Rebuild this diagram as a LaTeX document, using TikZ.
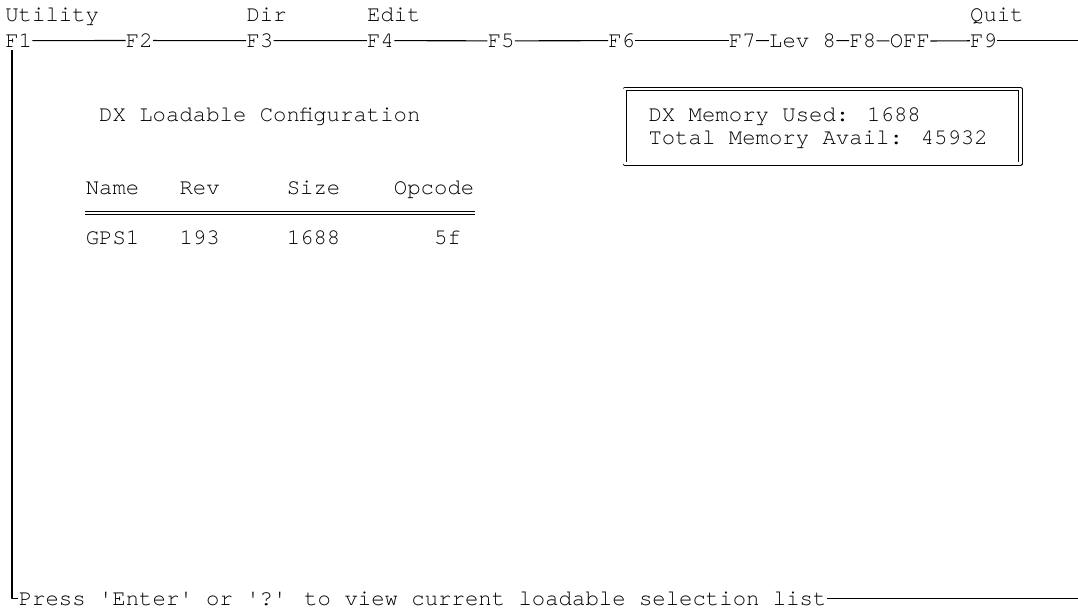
\documentclass[tikz,border=0pt]{standalone}
\usepackage{fontspec}
\newfontfamily\scrfont{texgyrecursor-regular.otf}
\begin{document}
\begin{tikzpicture}[x=0.02cm, y=-0.02cm, line join=round,
  txt/.style={font=\scrfont\fontsize{12.7}{13.1}\selectfont, inner sep=0pt, anchor=base west},
  bar/.style={line width=0.6pt},
  dbl/.style={double, double distance=1.4pt, line width=0.5pt}]
\useasboundingbox (0,0) rectangle (1078,611);
\coordinate (rend) at (1078,0);
% menu line
\node[txt] (ut) at (5,21.4) {Utility};
\node[txt] (dir) at (246.2,21.4) {Dir};
\node[txt] (edit) at (366.8,21.4) {Edit};
\node[txt] (quit) at (969.8,21.4) {Quit};
\node[txt] (f1) at (5,47.4) {F1};
\node[txt] (f2) at (125.6,47.4) {F2};
\node[txt] (f3) at (246.2,47.4) {F3};
\node[txt] (f4) at (366.8,47.4) {F4};
\node[txt] (f5) at (487.4,47.4) {F5};
\node[txt] (f6) at (608,47.4) {F6};
\node[txt] (f7) at (728.6,47.4) {F7};
\node[txt] (lev) at (768.8,47.4) {Lev 8};
\node[txt] (f8) at (849.2,47.4) {F8};
\node[txt] (off) at (889.4,47.4) {OFF};
\node[txt] (f9) at (969.8,47.4) {F9};
\foreach \a/\b in {f1/f2,f2/f3,f3/f4,f4/f5,f5/f6,f6/f7,f7/lev,lev/f8,f8/off,off/f9}
  \draw[bar] (\a) -- (\b);
\draw[bar] (f9.east) -- (f9.east -| rend);
% title and memory box
\node[txt] (title) at (98.8,121.4) {DX Loadable Configuration};
\node[txt] (used) at (648.2,121.4) {DX Memory Used: 1688};
\node[txt] (total) at (648.2,144.4) {Total Memory Avail: 45932};
\draw[dbl] (624.7,89.2) rectangle (1020.4,163.7);
% table
\node[txt] (hname) at (85.4,194.4) {Name};
\node[txt] (hrev) at (179.2,194.4) {Rev};
\node[txt] (hsize) at (286.4,194.4) {Size};
\node[txt] (hop) at (393.6,194.4) {Opcode};
\draw[dbl] (hname.west |- 0,213) -- (hop.east |- 0,213);
\node[txt] (name) at (85.4,244.4) {GPS1};
\node[txt] (rev) at (179.2,244.4) {193};
\node[txt] (size) at (286.4,244.4) {1688};
\node[txt] (op) at (433.8,244.4) {5f};
% status line
\node[txt] (press) at (18.4,605.4) {Press \textquotesingle Enter\textquotesingle{} or \textquotesingle ?\textquotesingle{} to view current loadable selection list};
\coordinate (vtop) at (12,50);
\draw[bar] (vtop) |- (press.west);
\draw[bar] (press.east) -- (press.east -| rend);
\end{tikzpicture}
\end{document}
